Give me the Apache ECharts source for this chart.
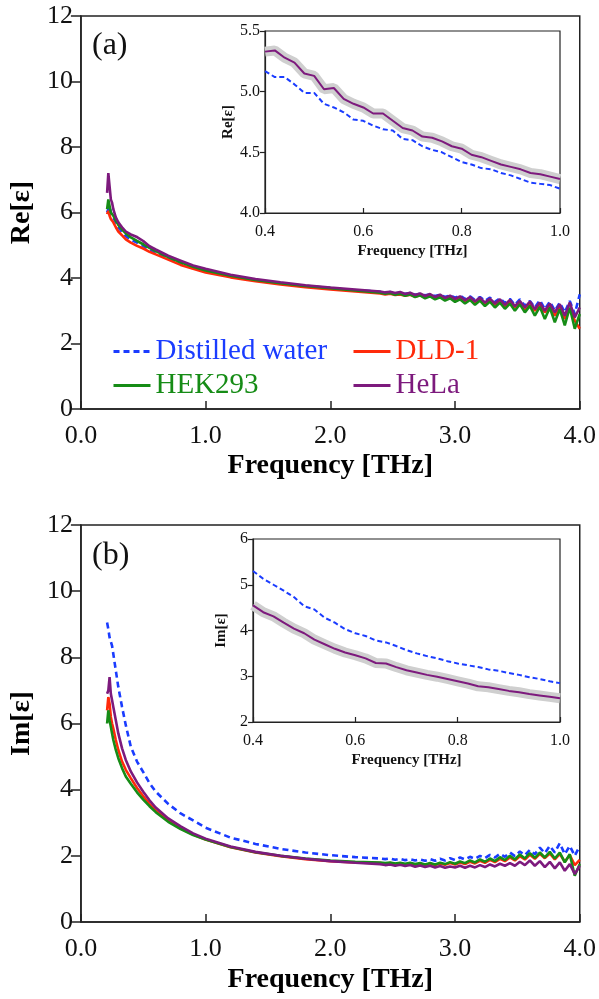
<!DOCTYPE html>
<html><head><meta charset="utf-8">
<script src="https://cdn.jsdelivr.net/npm/echarts@6/dist/echarts.min.js"></script>
<style>html,body{margin:0;padding:0;background:#fff}#c{width:599px;height:999px}</style>
</head><body><div id="c"></div>
<script>
// ---- Data ----
var freq = [0.21,0.22,0.23,0.24,0.25,0.26,0.28,0.30,0.33,0.36,0.40,0.45,0.50,0.55,0.60,0.70,0.80,0.90,1.00,1.20,1.40,1.60,1.80,2.00,2.20,
2.40,2.44,2.48,2.52,2.56,2.60,2.64,2.68,2.72,2.76,2.80,2.84,2.88,2.92,2.96,3.00,3.04,3.08,3.12,3.16,3.20,3.24,3.28,3.32,3.36,3.40,3.44,3.48,3.52,3.56,3.60,3.64,3.68,3.72,3.76,3.80,3.84,3.88,3.92,3.96,4.00];

var reWater = [6.0,6.1,6.2,6.0,5.9,5.85,5.7,5.55,5.4,5.28,5.17,5.08,4.98,4.86,4.75,4.60,4.43,4.30,4.20,4.05,3.93,3.83,3.75,3.69,3.63,
3.58,3.55,3.57,3.53,3.55,3.52,3.54,3.49,3.52,3.47,3.50,3.45,3.49,3.42,3.47,3.40,3.46,3.36,3.44,3.33,3.42,3.30,3.40,3.27,3.38,3.24,3.36,3.18,3.35,3.15,3.30,3.10,3.32,3.05,3.28,3.00,3.25,2.95,3.30,2.90,3.50];
var reDLD = [5.95,6.05,5.9,5.8,5.75,5.7,5.55,5.42,5.3,5.18,5.08,4.98,4.90,4.80,4.72,4.56,4.40,4.28,4.17,4.02,3.90,3.80,3.72,3.65,3.59,
3.53,3.50,3.52,3.48,3.50,3.46,3.49,3.43,3.47,3.41,3.45,3.38,3.43,3.35,3.41,3.32,3.39,3.28,3.36,3.25,3.34,3.21,3.31,3.18,3.29,3.14,3.27,3.10,3.24,3.05,3.20,3.00,3.18,2.95,3.15,2.85,3.10,2.75,3.05,2.70,2.45];
var reHEK = [6.1,6.4,6.2,6.0,5.95,5.9,5.75,5.62,5.48,5.36,5.24,5.13,5.03,4.92,4.82,4.64,4.48,4.34,4.23,4.07,3.94,3.84,3.76,3.69,3.62,
3.55,3.52,3.54,3.49,3.52,3.46,3.50,3.42,3.47,3.38,3.44,3.35,3.41,3.31,3.38,3.27,3.35,3.22,3.33,3.18,3.31,3.14,3.28,3.10,3.25,3.06,3.22,3.00,3.20,2.95,3.15,2.85,3.12,2.75,3.10,2.65,3.05,2.55,3.10,2.45,2.90];
var reHeLa = [6.6,7.2,6.8,6.4,6.3,6.1,5.85,5.7,5.55,5.42,5.33,5.25,5.13,4.97,4.87,4.68,4.53,4.38,4.28,4.10,3.97,3.87,3.78,3.71,3.65,
3.59,3.56,3.58,3.54,3.57,3.51,3.55,3.48,3.53,3.45,3.51,3.42,3.49,3.39,3.46,3.36,3.44,3.32,3.42,3.29,3.40,3.25,3.37,3.22,3.35,3.18,3.33,3.14,3.30,3.10,3.28,3.05,3.25,3.00,3.22,2.95,3.20,2.85,3.25,2.80,3.10];

var imWater = [9.05,8.85,8.6,8.65,8.35,8.1,7.6,7.1,6.5,5.95,5.30,4.85,4.53,4.20,3.94,3.57,3.28,3.07,2.85,2.55,2.36,2.21,2.10,2.02,1.96,
1.92,1.90,1.92,1.88,1.91,1.87,1.90,1.86,1.89,1.85,1.90,1.85,1.91,1.86,1.93,1.87,1.95,1.89,1.97,1.91,2.00,1.93,2.03,1.95,2.06,1.97,2.10,1.99,2.13,2.02,2.18,2.05,2.25,2.08,2.30,2.10,2.38,2.05,2.30,2.00,2.30];
var imDLD = [6.4,6.8,6.6,6.2,6.0,5.85,5.5,5.2,4.85,4.6,4.35,4.05,3.80,3.57,3.37,3.06,2.83,2.64,2.49,2.26,2.10,1.99,1.90,1.84,1.80,
1.78,1.76,1.78,1.75,1.77,1.74,1.77,1.73,1.76,1.72,1.76,1.72,1.77,1.73,1.78,1.74,1.80,1.75,1.82,1.77,1.85,1.79,1.88,1.81,1.91,1.84,1.95,1.86,1.99,1.89,2.03,1.91,2.06,1.93,2.07,1.89,2.06,1.82,2.02,1.72,1.88];
var imHEK = [6.0,6.4,6.1,5.9,5.7,5.5,5.2,4.95,4.65,4.4,4.18,3.92,3.70,3.50,3.32,3.03,2.81,2.63,2.49,2.27,2.11,2.00,1.92,1.86,1.82,
1.80,1.78,1.80,1.77,1.79,1.76,1.79,1.75,1.78,1.74,1.78,1.74,1.79,1.75,1.81,1.76,1.83,1.78,1.86,1.80,1.89,1.82,1.92,1.84,1.96,1.87,2.00,1.89,2.04,1.92,2.08,1.94,2.10,1.95,2.12,1.92,2.10,1.80,2.05,1.40,1.75];
var imHeLa = [6.9,7.0,7.4,6.9,6.7,6.5,6.1,5.7,5.25,4.9,4.55,4.22,3.94,3.68,3.46,3.13,2.89,2.68,2.52,2.28,2.12,2.00,1.91,1.84,1.79,
1.75,1.72,1.74,1.70,1.73,1.69,1.72,1.67,1.71,1.66,1.70,1.65,1.69,1.64,1.68,1.65,1.70,1.64,1.70,1.65,1.72,1.66,1.74,1.68,1.76,1.70,1.78,1.70,1.82,1.72,1.86,1.70,1.84,1.66,1.82,1.62,1.80,1.55,1.75,1.45,1.70];

// inset frequency axis
var freqInset = [0.40,0.42,0.44,0.46,0.48,0.50,0.52,0.54,0.56,0.58,0.60,0.62,0.64,0.66,0.68,0.70,0.72,0.74,0.76,0.78,0.80,0.82,0.84,0.86,0.88,0.90,0.92,0.94,0.96,0.98,1.00];
var insReWater = [5.17,5.12,5.12,5.06,4.99,4.99,4.90,4.87,4.83,4.77,4.76,4.72,4.69,4.68,4.61,4.60,4.55,4.52,4.50,4.46,4.42,4.40,4.37,4.36,4.33,4.31,4.28,4.25,4.24,4.23,4.20];
var insReHeLa = [5.33,5.34,5.28,5.24,5.15,5.13,5.02,5.03,4.94,4.90,4.87,4.82,4.82,4.76,4.70,4.68,4.63,4.62,4.59,4.55,4.53,4.48,4.46,4.43,4.40,4.38,4.36,4.33,4.32,4.30,4.28];
var insImWater = [5.30,5.13,5.00,4.87,4.73,4.53,4.46,4.28,4.17,4.03,3.94,3.88,3.78,3.74,3.66,3.57,3.50,3.44,3.39,3.33,3.28,3.24,3.20,3.15,3.12,3.07,3.03,2.98,2.94,2.89,2.85];
var insImHeLa = [4.55,4.40,4.31,4.17,4.04,3.94,3.80,3.70,3.60,3.52,3.46,3.39,3.29,3.28,3.20,3.13,3.08,3.03,2.99,2.94,2.89,2.84,2.78,2.76,2.72,2.68,2.65,2.61,2.58,2.55,2.52];

var names = ['Distilled water','DLD-1','HEK293','HeLa'];
var colors = ['#1a3cff','#ff2a0a','#168c16','#7d1a7d'];

// ---- Chart ----
var FONT = 'Liberation Serif';
function zip(xs, ys){ return xs.map(function(x,i){ return [x, ys[i]]; }); }

function mainSeries(vals, gridIdx){
  return vals.map(function(v,i){
    return {
      name: names[i], type:'line', xAxisIndex:gridIdx, yAxisIndex:gridIdx,
      data: zip(freq, v), symbol:'none', showSymbol:false, animation:false,
      lineStyle:{color:colors[i], width:2.6, type: i===0 ? [6,4] : 'solid'},
      itemStyle:{color:colors[i]}, z: 2+i
    };
  });
}

function mainX(gridIdx, gap){
  return {
    gridIndex:gridIdx, type:'value', min:0, max:4, interval:1,
    name:'Frequency [THz]', nameLocation:'middle', nameGap:gap,
    nameTextStyle:{fontFamily:FONT, fontSize:28, fontWeight:'bold', color:'#000'},
    axisLine:{lineStyle:{color:'#222', width:1.5}},
    axisTick:{inside:true, length:8, lineStyle:{color:'#222', width:1.5}},
    axisLabel:{fontFamily:FONT, fontSize:26, color:'#111', margin:14, formatter:function(v){return v.toFixed(1);}},
    splitLine:{show:false}
  };
}
function mainY(gridIdx, nm){
  return {
    gridIndex:gridIdx, type:'value', min:0, max:12, interval:2,
    name:nm, nameLocation:'middle', nameGap:44,
    nameTextStyle:{fontFamily:FONT, fontSize:28, fontWeight:'bold', color:'#000'},
    axisLine:{lineStyle:{color:'#222', width:1.5}},
    axisTick:{inside:false, length:10, lineStyle:{color:'#222', width:1.5}},
    axisLabel:{fontFamily:FONT, fontSize:26, color:'#111', margin:8},
    splitLine:{show:false}
  };
}
function insetX(gridIdx){
  return {
    gridIndex:gridIdx, type:'value', min:0.4, max:1.0, interval:0.2,
    name:'Frequency [THz]', nameLocation:'middle', nameGap:31,
    nameTextStyle:{fontFamily:FONT, fontSize:15, fontWeight:'bold', color:'#111'},
    axisLine:{lineStyle:{color:'#222', width:1.2}},
    axisTick:{inside:true, length:5, lineStyle:{color:'#222', width:1.2}},
    axisLabel:{fontFamily:FONT, fontSize:16, color:'#111', margin:11, formatter:function(v){return v.toFixed(1);}},
    splitLine:{show:false}
  };
}
function insetY(gridIdx, nm, mn, mx, itv, dec, gap){
  return {
    gridIndex:gridIdx, type:'value', min:mn, max:mx, interval:itv,
    name:nm, nameLocation:'middle', nameGap:gap,
    nameTextStyle:{fontFamily:FONT, fontSize:15, fontWeight:'bold', color:'#111'},
    axisLine:{lineStyle:{color:'#222', width:1.2}},
    axisTick:{inside:false, length:5, lineStyle:{color:'#222', width:1.2}},
    axisLabel:{fontFamily:FONT, fontSize:16, color:'#111', margin:5, formatter:function(v){return v.toFixed(dec);}},
    splitLine:{show:false}
  };
}
function insetSeries(gridIdx, water, hela){
  return [
    {name:'band'+gridIdx, type:'line', xAxisIndex:gridIdx, yAxisIndex:gridIdx, data:zip(freqInset, hela),
     symbol:'none', animation:false, lineStyle:{color:'#cfcfcf', width:10}, z:2},
    {name:'Distilled water', type:'line', xAxisIndex:gridIdx, yAxisIndex:gridIdx, data:zip(freqInset, water),
     symbol:'none', animation:false, lineStyle:{color:colors[0], width:2, type:[5,3]}, z:3},
    {name:'HeLa', type:'line', xAxisIndex:gridIdx, yAxisIndex:gridIdx, data:zip(freqInset, hela),
     symbol:'none', animation:false, lineStyle:{color:colors[3], width:2}, z:4}
  ];
}

function legendItem(i){
  return {name:names[i], itemStyle:{opacity:0}, lineStyle:{width:3}, textStyle:{color:colors[i]}};
}

var gridBase = {show:true, borderColor:'#222', borderWidth:1.5, backgroundColor:'transparent', containLabel:false};
var option = {
  backgroundColor:'#fff',
  animation:false,
  grid:[
    Object.assign({}, gridBase, {left:78, top:16, width:505, height:393}),
    Object.assign({}, gridBase, {left:265, top:31, width:295, height:182, borderWidth:1.2, backgroundColor:'#fff'}),
    Object.assign({}, gridBase, {left:78, top:525, width:505, height:397}),
    Object.assign({}, gridBase, {left:253, top:539, width:307, height:183, borderWidth:1.2, backgroundColor:'#fff'})
  ],
  xAxis:[mainX(0,43), insetX(1), mainX(2,44), insetX(3)],
  yAxis:[mainY(0,'Re[ε]'), insetY(1,'Re[ε]',4.0,5.5,0.5,1,26), mainY(2,'Im[ε]'), insetY(3,'Im[ε]',2,6,1,0,20)],
  legend:[
    {left:107, top:332, orient:'vertical', itemGap:5, itemWidth:37, itemHeight:14, selectedMode:false,
     textStyle:{fontFamily:FONT, fontSize:29},
     data:[legendItem(0), legendItem(2)]},
    {left:347, top:332, orient:'vertical', itemGap:5, itemWidth:37, itemHeight:14, selectedMode:false,
     textStyle:{fontFamily:FONT, fontSize:29},
     data:[legendItem(1), legendItem(3)]}
  ],
  graphic:[
    {type:'text', left:92, top:30, style:{text:'(a)', font:'32px "Liberation Serif"', fill:'#111'}},
    {type:'text', left:92, top:540, style:{text:'(b)', font:'32px "Liberation Serif"', fill:'#111'}}
  ],
  series: [].concat(
    mainSeries([reWater, reDLD, reHEK, reHeLa], 0),
    insetSeries(1, insReWater, insReHeLa),
    mainSeries([imWater, imDLD, imHEK, imHeLa], 2),
    insetSeries(3, insImWater, insImHeLa)
  )
};
var chart = echarts.init(document.getElementById('c'), null, {renderer:'canvas'});
chart.setOption(option);
</script>
</body></html>
